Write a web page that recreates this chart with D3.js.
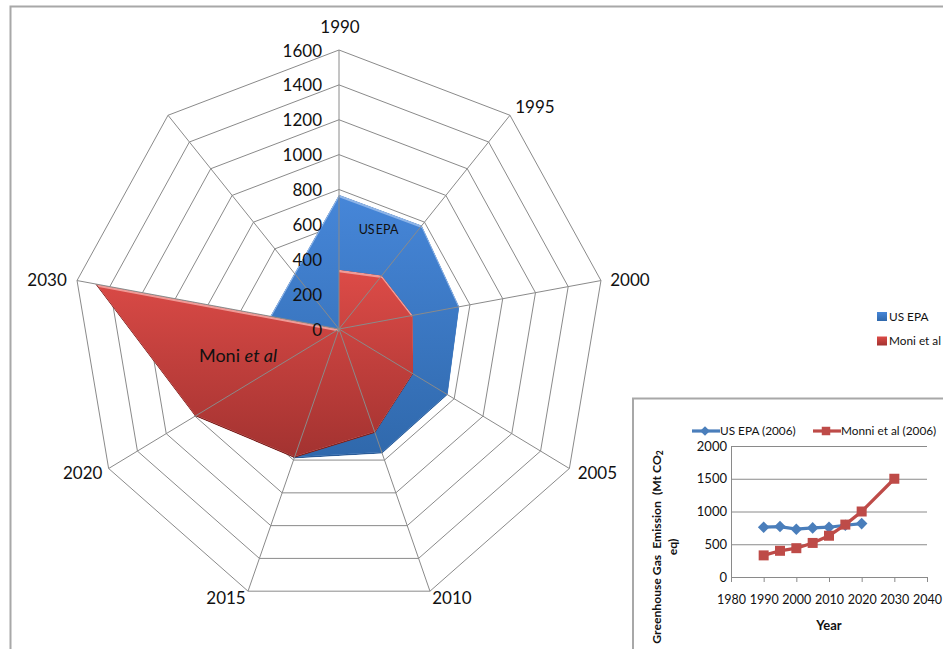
<!DOCTYPE html>
<html>
<head>
<meta charset="utf-8">
<script src="https://cdn.jsdelivr.net/npm/d3@7"></script>
<style>
  html, body { margin: 0; padding: 0; background: #fff; overflow: hidden; }
  svg { display: block; font-family: Lato, "Open Sans", sans-serif; }
</style>
</head>
<body>
<svg id="chart" width="943" height="649"></svg>
<script>
// Radar series: one slot per year, with an unlabelled slot between 2030 and 1990
const radarCategories = ["1990", "1995", "2000", "2005", "2010", "2015", "2020", "2030", ""];
const radarEpa = [770, 775, 735, 755, 760, 790, 815, 420, 417];
const radarMoni = [340, 400, 450, 515, 635, 787, 1000, 1490, 0];
const radarTicks = [0, 200, 400, 600, 800, 1000, 1200, 1400, 1600];

// Inset line chart series
const insetEpaYears = [1990, 1995, 2000, 2005, 2010, 2015, 2020];
const insetEpaValues = [760, 770, 730, 750, 760, 790, 815];
const insetMonniYears = [1990, 1995, 2000, 2005, 2010, 2015, 2020, 2030];
const insetMonniValues = [330, 400, 440, 520, 630, 800, 1000, 1500];
const insetXTicks = [1980, 1990, 2000, 2010, 2020, 2030, 2040];
const insetYTicks = [0, 500, 1000, 1500, 2000];

const svg = d3.select("#chart");
const gridColor = "#8a8a8a";
const textColor = "#111";

// Outer frame: only the top and left sides fall inside the page
svg.append("path").attr("d", "M10.5,649V6.5H943")
  .attr("fill", "none").attr("stroke", "#a8a8a8").attr("stroke-width", 2);

// ---- Radar ----
const cx = 339, cy = 329, radiusX = 266, radiusY = 279;
const angle = d3.scaleLinear().domain([0, radarCategories.length]).range([0, 2 * Math.PI]);
const radial = d3.scaleLinear().domain([0, 1600]).range([0, 1]);
const px = (i, v) => cx + Math.sin(angle(i)) * radial(v) * radiusX;
const py = (i, v) => cy - Math.cos(angle(i)) * radial(v) * radiusY;
const ringLine = d3.line().x((d, i) => px(i, d)).y((d, i) => py(i, d)).curve(d3.curveLinearClosed);

const defs = svg.append("defs");
function addGradient(id, top, bottom) {
  const g = defs.append("linearGradient").attr("id", id)
    .attr("x1", 0).attr("y1", 0).attr("x2", 0).attr("y2", 1);
  g.append("stop").attr("offset", "0%").attr("stop-color", top);
  g.append("stop").attr("offset", "100%").attr("stop-color", bottom);
}
addGradient("blueFill", "#4686d8", "#2f68ab");
addGradient("redFill", "#dc4b47", "#a23230");

const radar = svg.append("g");

// Concentric rings sit beneath the filled series
radar.append("g").selectAll("path")
  .data(radarTicks.slice(1))
  .join("path")
  .attr("d", t => ringLine(radarCategories.map(() => t)))
  .attr("fill", "none").attr("stroke", gridColor).attr("stroke-width", 1);

// Filled series with a bevelled look: dark lower rim, light upper rim
function bevelled(values, id, fill, light, dark) {
  const d = ringLine(values);
  defs.append("clipPath").attr("id", id + "Clip").append("path").attr("d", d);
  defs.append("clipPath").attr("id", id + "Inner").append("path").attr("d", d)
    .attr("transform", "translate(0,-1.5)");
  const g = radar.append("g").attr("clip-path", `url(#${id}Clip)`);
  g.append("path").attr("d", d).attr("fill", dark);
  const inner = g.append("g").attr("clip-path", `url(#${id}Inner)`);
  inner.append("path").attr("d", d).attr("fill", light);
  inner.append("path").attr("d", d).attr("fill", fill).attr("transform", "translate(0,2.5)");
}
bevelled(radarEpa, "epa", "url(#blueFill)", "#8db4e8", "#2a5c98");
bevelled(radarMoni, "moni", "url(#redFill)", "#f09a96", "#7d2422");

// Spokes are drawn over the fills
radar.append("g").selectAll("line")
  .data(radarCategories)
  .join("line")
  .attr("x1", cx).attr("y1", cy)
  .attr("x2", (d, i) => px(i, 1600)).attr("y2", (d, i) => py(i, 1600))
  .attr("stroke", gridColor).attr("stroke-width", 1);

// Value labels up the vertical spoke
radar.append("g").selectAll("text")
  .data(radarTicks)
  .join("text")
  .attr("x", cx - 17).attr("y", t => py(0, t) + 0.5)
  .attr("dy", "0.36em").attr("text-anchor", "end")
  .attr("font-size", 17).attr("fill", textColor)
  .text(d => d);

// Year labels just beyond each spoke tip
const labelNudge = [[1, -23], [25, -8], [29, -1], [28, 4], [22, 7], [-22, 7], [-26, 4], [-30, -1], [0, 0]];
radar.append("g").selectAll("text")
  .data(radarCategories)
  .join("text")
  .attr("x", (d, i) => px(i, 1600) + labelNudge[i][0])
  .attr("y", (d, i) => py(i, 1600) + labelNudge[i][1])
  .attr("dy", "0.36em").attr("text-anchor", "middle")
  .attr("font-size", 17).attr("fill", textColor)
  .text(d => d);

// Labels placed directly on the areas
radar.append("text").attr("x", 378.5).attr("y", 229).attr("dy", "0.36em")
  .attr("text-anchor", "middle").attr("font-size", 12.5).attr("fill", textColor)
  .attr("word-spacing", "-2").text("US EPA");
const moniLabel = radar.append("text").attr("x", 238).attr("y", 356).attr("dy", "0.36em")
  .attr("text-anchor", "middle").attr("font-size", 18).attr("fill", textColor);
moniLabel.append("tspan").text("Moni ");
moniLabel.append("tspan").attr("font-style", "italic").text("et al");

// Legend for the radar
const radarLegend = [["US EPA", "url(#blueFill)", 316.5], ["Moni et al", "url(#redFill)", 341]];
radarLegend.forEach(([name, fill, y]) => {
  svg.append("rect").attr("x", 877).attr("y", y - 4.5).attr("width", 10).attr("height", 9).attr("fill", fill);
  svg.append("text").attr("x", 889).attr("y", y).attr("dy", "0.36em")
    .attr("font-size", 11.8).attr("fill", textColor).text(name);
});

// ---- Inset line chart ----
const blue = "#4a7ebb", red = "#be4b48";
svg.append("path").attr("d", "M633,649V398.5H943")
  .attr("fill", "#fff").attr("stroke", "#a8a8a8").attr("stroke-width", 2);

const x = d3.scaleLinear().domain([1980, 2040]).range([731, 927]);
const y = d3.scaleLinear().domain([0, 2000]).range([577, 446]);
const inset = svg.append("g");

inset.append("g").attr("transform", "translate(0,577)")
  .call(d3.axisBottom(x).tickValues(insetXTicks).tickFormat(d3.format("d")).tickSize(5).tickPadding(13))
  .call(g => g.select(".domain").attr("stroke", gridColor))
  .call(g => g.selectAll("line").attr("stroke", gridColor))
  .call(g => g.selectAll("text").attr("font-size", 12.5).attr("font-family", "Lato").attr("fill", textColor));

inset.append("g").attr("transform", "translate(731,0)")
  .call(d3.axisLeft(y).tickValues(insetYTicks).tickFormat(d3.format("d")).tickSize(-196).tickPadding(4))
  .call(g => g.select(".domain").attr("stroke", gridColor))
  .call(g => g.selectAll("line").attr("stroke", gridColor))
  .call(g => g.selectAll("text").attr("font-size", 13).attr("font-family", "Lato").attr("fill", textColor));

const lineOf = (xs, ys) => d3.line().x((d, i) => x(xs[i])).y(d => y(d))(ys);
inset.append("path").attr("d", lineOf(insetEpaYears, insetEpaValues))
  .attr("fill", "none").attr("stroke", blue).attr("stroke-width", 3.2);
inset.append("g").selectAll("path")
  .data(insetEpaValues)
  .join("path")
  .attr("d", d3.symbol(d3.symbolDiamond2, 85))
  .attr("transform", (d, i) => `translate(${x(insetEpaYears[i])},${y(d)})`)
  .attr("fill", blue);

inset.append("path").attr("d", lineOf(insetMonniYears, insetMonniValues))
  .attr("fill", "none").attr("stroke", red).attr("stroke-width", 3.2);
inset.append("g").selectAll("path")
  .data(insetMonniValues)
  .join("path")
  .attr("d", d3.symbol(d3.symbolSquare, 100))
  .attr("transform", (d, i) => `translate(${x(insetMonniYears[i])},${y(d)})`)
  .attr("fill", red);

// Inset legend
const legendY = 431;
inset.append("line").attr("x1", 692).attr("x2", 720).attr("y1", legendY).attr("y2", legendY)
  .attr("stroke", blue).attr("stroke-width", 3.2);
inset.append("path").attr("d", d3.symbol(d3.symbolDiamond2, 60))
  .attr("transform", `translate(705,${legendY})`).attr("fill", blue);
inset.append("text").attr("x", 720).attr("y", legendY).attr("dy", "0.36em")
  .attr("font-size", 11.8).attr("fill", textColor).text("US EPA (2006)");
inset.append("line").attr("x1", 813).attr("x2", 841).attr("y1", legendY).attr("y2", legendY)
  .attr("stroke", red).attr("stroke-width", 3.2);
inset.append("path").attr("d", d3.symbol(d3.symbolSquare, 72))
  .attr("transform", `translate(826,${legendY})`).attr("fill", red);
inset.append("text").attr("x", 841).attr("y", legendY).attr("dy", "0.36em")
  .attr("font-size", 11.8).attr("fill", textColor).text("Monni et al (2006)");

// Axis titles
inset.append("text").attr("x", 829).attr("y", 625).attr("dy", "0.36em")
  .attr("text-anchor", "middle").attr("font-size", 13).attr("font-weight", 700)
  .attr("fill", textColor).text("Year");
const yTitle = inset.append("text")
  .attr("transform", "translate(661,547) rotate(-90)")
  .attr("text-anchor", "middle").attr("font-size", 12.2).attr("font-weight", 700)
  .attr("fill", textColor).attr("xml:space", "preserve");
yTitle.append("tspan").text("Greenhouse Gas  Emission  (Mt CO");
yTitle.append("tspan").attr("font-size", 8.5).attr("dy", 2).text("2");
inset.append("text")
  .attr("transform", "translate(677,547) rotate(-90)")
  .attr("text-anchor", "middle").attr("font-size", 12.2).attr("font-weight", 700)
  .attr("fill", textColor).text("eq)");
</script>
</body>
</html>
